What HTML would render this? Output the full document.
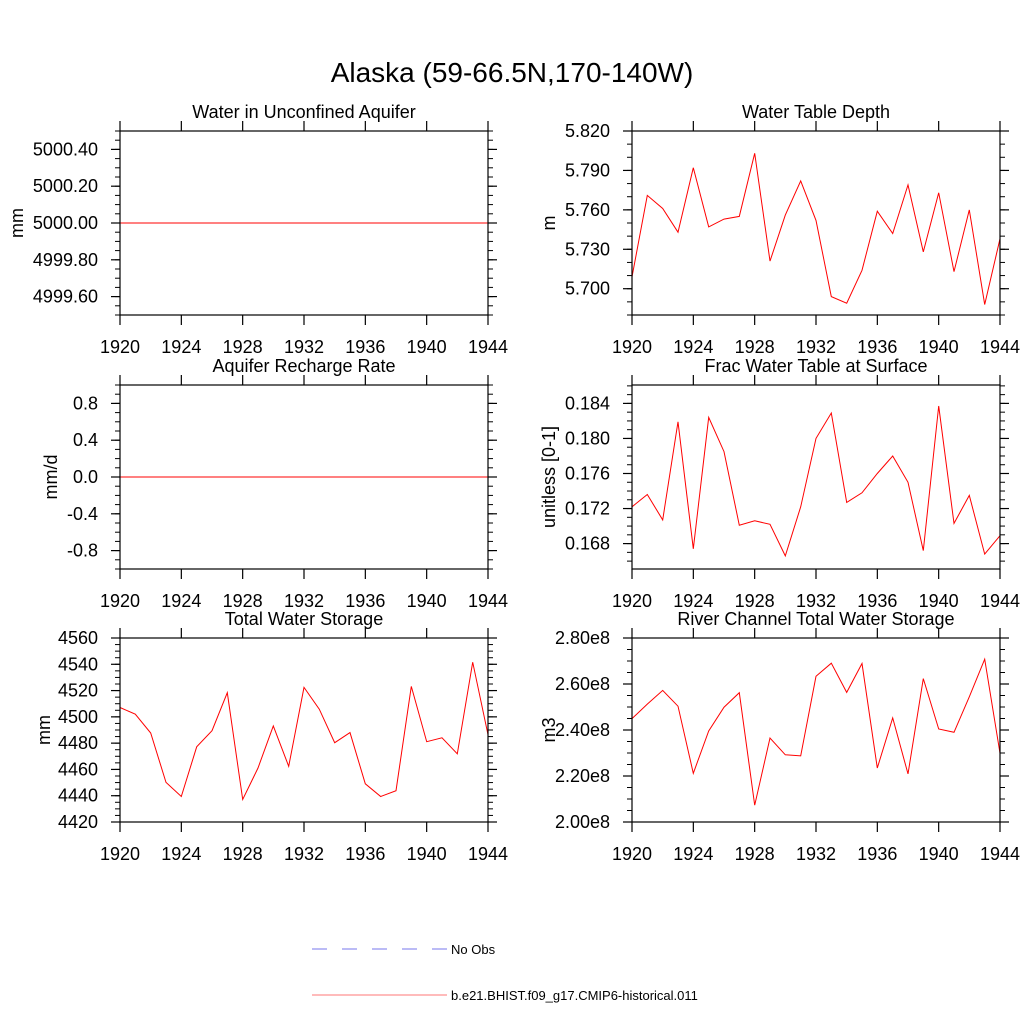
<!DOCTYPE html>
<html><head><meta charset="utf-8"><style>
html,body{margin:0;padding:0;background:#fff}
svg{display:block;font-family:"Liberation Sans",Arial,sans-serif}
</style></head><body>
<svg id="chart" width="1024" height="1024" viewBox="0 0 1024 1024" xmlns="http://www.w3.org/2000/svg">
<rect width="1024" height="1024" fill="#fff"/>
<text x="512" y="82" font-size="28" text-anchor="middle">Alaska (59-66.5N,170-140W)</text>
<g id="panels"></g>
<g>
<line x1="312" y1="949" x2="447" y2="949" stroke="#7777ee" stroke-width="1" stroke-dasharray="15,15"/>
<text x="451" y="954" font-size="13">No Obs</text>
<line x1="312" y1="995" x2="447" y2="995" stroke="#ff7777" stroke-width="1"/>
<text x="451" y="1000" font-size="13">b.e21.BHIST.f09_g17.CMIP6-historical.011</text>
</g>
</svg>
<script>
const years = [1920,1921,1922,1923,1924,1925,1926,1927,1928,1929,1930,1931,1932,1933,1934,1935,1936,1937,1938,1939,1940,1941,1942,1943,1944];
const xTicks = [1920,1924,1928,1932,1936,1940,1944];
const aquiferWater = [5000,5000,5000,5000,5000,5000,5000,5000,5000,5000,5000,5000,5000,5000,5000,5000,5000,5000,5000,5000,5000,5000,5000,5000,5000];
const rechargeRate = [0,0,0,0,0,0,0,0,0,0,0,0,0,0,0,0,0,0,0,0,0,0,0,0,0];
const waterTableDepth = [5.709,5.771,5.761,5.743,5.792,5.747,5.753,5.755,5.803,5.721,5.756,5.782,5.752,5.694,5.689,5.714,5.759,5.742,5.779,5.728,5.773,5.713,5.760,5.688,5.738];
const fracWaterTable = [0.1722,0.1736,0.1707,0.1819,0.1674,0.1824,0.1785,0.1701,0.1706,0.1702,0.1666,0.1722,0.1800,0.1829,0.1727,0.1738,0.1760,0.1780,0.1750,0.1672,0.1837,0.1703,0.1735,0.1668,0.1689];
const totalWaterStorage = [4507.1,4502,4487.7,4450.1,4439.4,4477.2,4489.5,4518.4,4437.1,4461.1,4493.1,4462.4,4522.4,4505.8,4480.3,4488,4449.1,4439.4,4443.8,4523.2,4481.1,4484.1,4471.9,4541.6,4486.4];
const riverStorage = [2.4496,2.5124,2.5723,2.5036,2.2117,2.3956,2.4993,2.562,2.073,2.365,2.292,2.2876,2.6336,2.6905,2.5635,2.689,2.235,2.4526,2.209,2.6234,2.4044,2.39,2.5445,2.708,2.2993];
const tickLabelsA = ["4999.60","4999.80","5000.00","5000.20","5000.40"];
const tickLabelsB = ["-0.8","-0.4","0.0","0.4","0.8"];
const tickLabelsC = ["4420","4440","4460","4480","4500","4520","4540","4560"];
const tickLabelsD = ["5.700","5.730","5.760","5.790","5.820"];
const tickLabelsE = ["0.168","0.172","0.176","0.180","0.184"];
const tickLabelsF = ["2.00e8","2.20e8","2.40e8","2.60e8","2.80e8"];

const NS = "http://www.w3.org/2000/svg";
const root = document.getElementById('panels');
function mk(tag, attrs, parent){const e=document.createElementNS(NS,tag);for(const k in attrs)e.setAttribute(k,attrs[k]);parent.appendChild(e);return e;}

const panels = [
 {name:"aquifer-water",title:"Water in Unconfined Aquifer",unit:"mm",ux:17,x0:120,y0:131,ymin:4999.5,ymax:5000.5,major:[4999.6,4999.8,5000,5000.2,5000.4],labels:tickLabelsA,minor:0.05,data:aquiferWater},
 {name:"recharge-rate",title:"Aquifer Recharge Rate",unit:"mm/d",ux:51,x0:120,y0:385,ymin:-1,ymax:1,major:[-0.8,-0.4,0,0.4,0.8],labels:tickLabelsB,minor:0.1,data:rechargeRate},
 {name:"total-water-storage",title:"Total Water Storage",unit:"mm",ux:44,x0:120,y0:638,ymin:4420,ymax:4560,major:[4420,4440,4460,4480,4500,4520,4540,4560],labels:tickLabelsC,minor:5,data:totalWaterStorage},
 {name:"water-table-depth",title:"Water Table Depth",unit:"m",ux:549,x0:632,y0:131,ymin:5.68,ymax:5.82,major:[5.70,5.73,5.76,5.79,5.82],labels:tickLabelsD,minor:0.01,data:waterTableDepth},
 {name:"frac-water-table",title:"Frac Water Table at Surface",unit:"unitless [0-1]",ux:549,x0:632,y0:385,ymin:0.1651,ymax:0.1861,major:[0.168,0.172,0.176,0.180,0.184],labels:tickLabelsE,minor:0.001,data:fracWaterTable},
 {name:"river-channel-storage",title:"River Channel Total Water Storage",unit:"m3",ux:549,x0:632,y0:638,ymin:2.0,ymax:2.8,major:[2.0,2.2,2.4,2.6,2.8],labels:tickLabelsF,minor:0.05,data:riverStorage}
];
const W=368,H=184;
panels.forEach(p=>{
  const g=mk('g',{},root);
  
  
  const xs=v=>p.x0+(v-1920)/(1944-1920)*W;
  const ys=v=>p.y0+H-(v-p.ymin)/(p.ymax-p.ymin)*H;
  const t=mk('text',{x:p.x0+W/2,y:p.y0-13,'font-size':18,'text-anchor':'middle'},g);t.textContent=p.title;
  
  
  const u=mk('text',{x:p.ux,y:p.y0+H/2,'font-size':18,'text-anchor':'middle',transform:`rotate(-90 ${p.ux} ${p.y0+H/2})`,dy:6},g);u.textContent=p.unit;
  
  
  // minor ticks
  const n=Math.round((p.ymax-p.ymin)/p.minor);
  const start=Math.ceil(p.ymin/p.minor-1e-6);
  for(let k=start;k*p.minor<=p.ymax+1e-9;k++){
    const y=ys(k*p.minor);
    mk('line',{x1:p.x0-5,x2:p.x0,y1:y,y2:y,stroke:'#000','stroke-width':1},g);
    mk('line',{x1:p.x0+W,x2:p.x0+W+5,y1:y,y2:y,stroke:'#000','stroke-width':1},g);
  }
  p.major.forEach((v,i)=>{
    const y=ys(v);
    mk('line',{x1:p.x0-9,x2:p.x0,y1:y,y2:y,stroke:'#000','stroke-width':1.2},g);
    mk('line',{x1:p.x0+W,x2:p.x0+W+9,y1:y,y2:y,stroke:'#000','stroke-width':1.2},g);
    const l=mk('text',{x:p.x0-22,y:y+6,'font-size':18,'text-anchor':'end'},g);l.textContent=p.labels[i];
    
    
  });
  xTicks.forEach(v=>{
    const x=xs(v);
    mk('line',{x1:x,x2:x,y1:p.y0-10,y2:p.y0,stroke:'#000','stroke-width':1.2},g);
    mk('line',{x1:x,x2:x,y1:p.y0+H,y2:p.y0+H+10,stroke:'#000','stroke-width':1.2},g);
    const l=mk('text',{x:x,y:p.y0+H+38,'font-size':18,'text-anchor':'middle'},g);l.textContent=v;
    
    
  });
  const pts=p.data.map((v,i)=>xs(years[i]).toFixed(1)+','+ys(v).toFixed(1)).join(' ');
  const line=mk('polyline',{points:pts,fill:'none',stroke:'#ff0000','stroke-width':1},g);
  
  
  const fr=mk('rect',{x:p.x0,y:p.y0,width:W,height:H,fill:'none',stroke:'#000','stroke-width':1.2},g);
  
  
});
</script>
</body></html>
